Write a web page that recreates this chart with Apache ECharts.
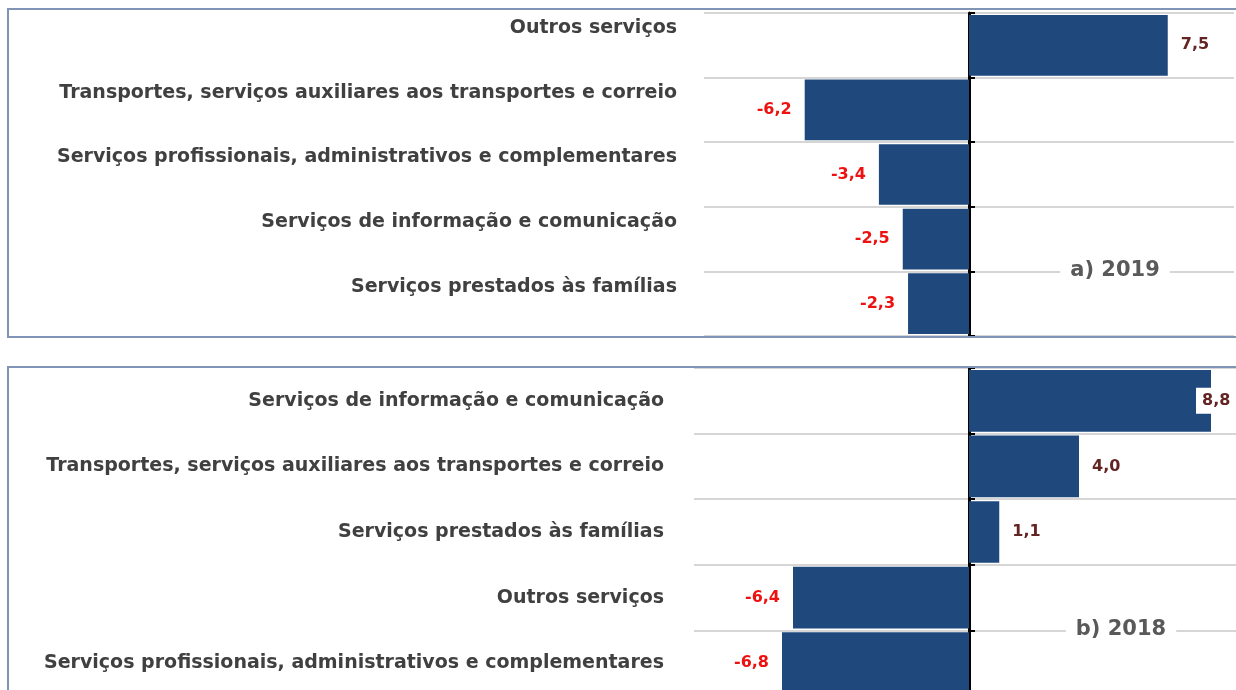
<!DOCTYPE html>
<html>
<head>
<meta charset="utf-8">
<script src="https://cdn.jsdelivr.net/npm/echarts@6/dist/echarts.min.js"></script>
<style>
html, body { margin: 0; padding: 0; background: #fff; overflow: hidden; }
#container { width: 1250px; height: 700px; }
</style>
</head>
<body>
<div id="container"></div>
<script>
let chart = echarts.init(document.getElementById('container'));

// a) 2019
let cats2019 = [
    'Outros serviços',
    'Transportes, serviços auxiliares aos transportes e correio',
    'Serviços profissionais, administrativos e complementares',
    'Serviços de informação e comunicação',
    'Serviços prestados às famílias'
];
let vals2019 = [7.5, -6.2, -3.4, -2.5, -2.3];

// b) 2018
let cats2018 = [
    'Serviços de informação e comunicação',
    'Transportes, serviços auxiliares aos transportes e correio',
    'Serviços prestados às famílias',
    'Outros serviços',
    'Serviços profissionais, administrativos e complementares'
];
let vals2018 = [8.8, 4.0, 1.1, -6.4, -6.8];

let panelTitles = ['a) 2019', 'b) 2018'];

var font = 'DejaVu Sans';
var barColor = '#1f497d';

function fmt(v) {
    return v.toFixed(1).replace('.', ',');
}

function makeData(vals) {
    return vals.map(function (v) {
        return {
            value: v,
            label: {
                position: v >= 0 ? 'right' : 'left',
                color: v >= 0 ? '#632523' : '#ee1111'
            }
        };
    });
}

function labelAxis(gi, cats, margin, raised) {
    var ax = {
        gridIndex: gi,
        type: 'category',
        data: cats,
        inverse: true,
        axisLine: { show: false, onZero: false },
        axisTick: { show: false },
        axisLabel: {
            margin: margin,
            fontFamily: font,
            fontSize: 19,
            fontWeight: 'bold',
            color: '#404040'
        },
        splitLine: { show: true, lineStyle: { color: '#d6d6d6', width: 2 } }
    };
    if (raised) {
        // top panel: names sit above the middle of their band
        ax.axisLabel.verticalAlign = 'bottom';
        ax.axisLabel.lineHeight = 34;
    }
    return ax;
}

function zeroAxis(gi, cats) {
    return {
        gridIndex: gi,
        type: 'category',
        data: cats,
        inverse: true,
        axisLine: { show: true, onZero: true, lineStyle: { color: '#000', width: 3 } },
        axisTick: { show: true, length: 6, lineStyle: { color: '#000', width: 2 } },
        axisLabel: { show: false },
        splitLine: { show: false }
    };
}

var seriesLabel = {
    show: true,
    distance: 13,
    fontFamily: font,
    fontSize: 16,
    fontWeight: 'bold',
    formatter: function (p) { return fmt(p.value); }
};

var data2018 = makeData(vals2018);
// first value runs off the frame, its label sits on a white box over the bar end
data2018[0].label.offset = [-28, 0];
data2018[0].label.backgroundColor = '#fff';
data2018[0].label.padding = [5, 6];

var option = {
    animation: false,
    grid: [
        { left: 704, top: 13, width: 530, height: 323 },
        { left: 694, top: 368, width: 550, height: 328 }
    ],
    xAxis: [
        { gridIndex: 0, type: 'value', min: -10, max: 10, show: false },
        { gridIndex: 1, type: 'value', min: -10, max: 10, show: false }
    ],
    yAxis: [
        labelAxis(0, cats2019, 27, true),
        zeroAxis(0, cats2019),
        labelAxis(1, cats2018, 30, false),
        zeroAxis(1, cats2018)
    ],
    series: [
        {
            type: 'bar', xAxisIndex: 0, yAxisIndex: 0,
            barWidth: '94%',
            itemStyle: { color: barColor },
            label: seriesLabel,
            data: makeData(vals2019)
        },
        {
            type: 'bar', xAxisIndex: 1, yAxisIndex: 2,
            barWidth: '94%',
            itemStyle: { color: barColor },
            label: seriesLabel,
            data: data2018
        }
    ],
    graphic: [
        {
            type: 'rect', silent: true, z: 50,
            shape: { x: 8, y: 9, width: 1270, height: 328 },
            style: { fill: 'none', stroke: '#8095b6', lineWidth: 2 }
        },
        {
            type: 'rect', silent: true, z: 50,
            shape: { x: 8, y: 367, width: 1270, height: 400 },
            style: { fill: 'none', stroke: '#8095b6', lineWidth: 2 }
        },
        {
            type: 'text', silent: true, z: 60,
            style: {
                text: panelTitles[0], x: 1115, y: 271,
                align: 'center', verticalAlign: 'middle',
                font: 'bold 21px "DejaVu Sans"', fill: '#595959',
                backgroundColor: '#fff', padding: [2, 10]
            }
        },
        {
            type: 'text', silent: true, z: 60,
            style: {
                text: panelTitles[1], x: 1121, y: 630,
                align: 'center', verticalAlign: 'middle',
                font: 'bold 21px "DejaVu Sans"', fill: '#595959',
                backgroundColor: '#fff', padding: [2, 10]
            }
        }
    ]
};

chart.setOption(option);
</script>
</body>
</html>
